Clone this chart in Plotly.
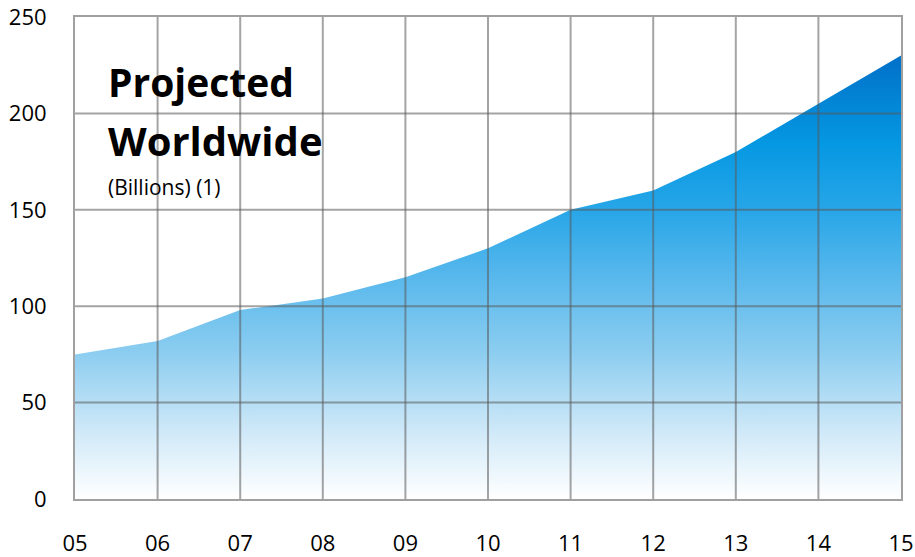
import plotly.graph_objects as go

years = [5, 6, 7, 8, 9, 10, 11, 12, 13, 14, 15]
year_labels = ["05", "06", "07", "08", "09", "10", "11", "12", "13", "14", "15"]
values = [75, 82, 98, 104, 115, 130, 150, 160, 180, 205, 230]
y_ticks = [0, 50, 100, 150, 200, 250]

FONT = "Open Sans"
GRID = "#a0a0a0"
GRID_OVER = "rgba(90,90,90,0.55)"

fig = go.Figure()
fig.add_trace(go.Scatter(
    x=years, y=values, mode="lines", line=dict(width=0),
    fill="tozeroy",
    fillgradient=dict(
        type="vertical", start=0, stop=230,
        colorscale=[
            [0.0, "rgb(255,255,255)"],
            [0.15, "rgb(208,233,248)"],
            [0.33, "rgb(140,205,240)"],
            [0.5, "rgb(88,184,236)"],
            [0.65, "rgb(40,166,232)"],
            [0.8, "rgb(5,152,226)"],
            [1.0, "rgb(0,112,200)"],
        ],
    ),
    hoverinfo="skip", showlegend=False,
))

# interior grid drawn on top of the area (semi-transparent, like the reference)
for xv in years[1:-1]:
    fig.add_shape(type="line", xref="x", yref="y", x0=xv, x1=xv, y0=y_ticks[0], y1=y_ticks[-1],
                  line=dict(color=GRID_OVER, width=2), layer="above")
for yv in y_ticks[1:-1]:
    fig.add_shape(type="line", xref="x", yref="y", x0=years[0], x1=years[-1], y0=yv, y1=yv,
                  line=dict(color=GRID_OVER, width=2), layer="above")

fig.update_xaxes(
    range=[5, 15], tickvals=years, ticktext=year_labels,
    showgrid=False, automargin=False,
    showline=True, linecolor=GRID, linewidth=2, mirror=True,
    zeroline=False, ticks="", ticklabelstandoff=24,
    tickfont=dict(family=FONT, size=22, color="#000"),
)
fig.update_yaxes(
    range=[0, 250], tickvals=y_ticks,
    showgrid=False, automargin=False,
    showline=True, linecolor=GRID, linewidth=2, mirror=True,
    zeroline=False, ticks="", ticklabelstandoff=22,
    tickfont=dict(family=FONT, size=22, color="#000"),
)

def py(p):
    return (499 - p) / 482

fig.add_annotation(x=0.037, xref="paper", y=py(82), yref="paper", xanchor="left", yanchor="middle",
                   text="<b>Projected</b>", showarrow=False,
                   font=dict(family=FONT, size=39, color="#000"))
fig.add_annotation(x=0.037, xref="paper", y=py(140), yref="paper", xanchor="left", yanchor="middle",
                   text="<b>Worldwide</b>", showarrow=False,
                   font=dict(family=FONT, size=40, color="#000"))
fig.add_annotation(x=0.037, xref="paper", y=py(187), yref="paper", xanchor="left", yanchor="middle",
                   text="(Billions) (1)", showarrow=False,
                   font=dict(family=FONT, size=21, color="#000"))

fig.update_layout(
    width=915, height=557,
    margin=dict(l=75, r=14, t=17, b=58),
    plot_bgcolor="white", paper_bgcolor="white",
)
fig.write_html("out.html")
